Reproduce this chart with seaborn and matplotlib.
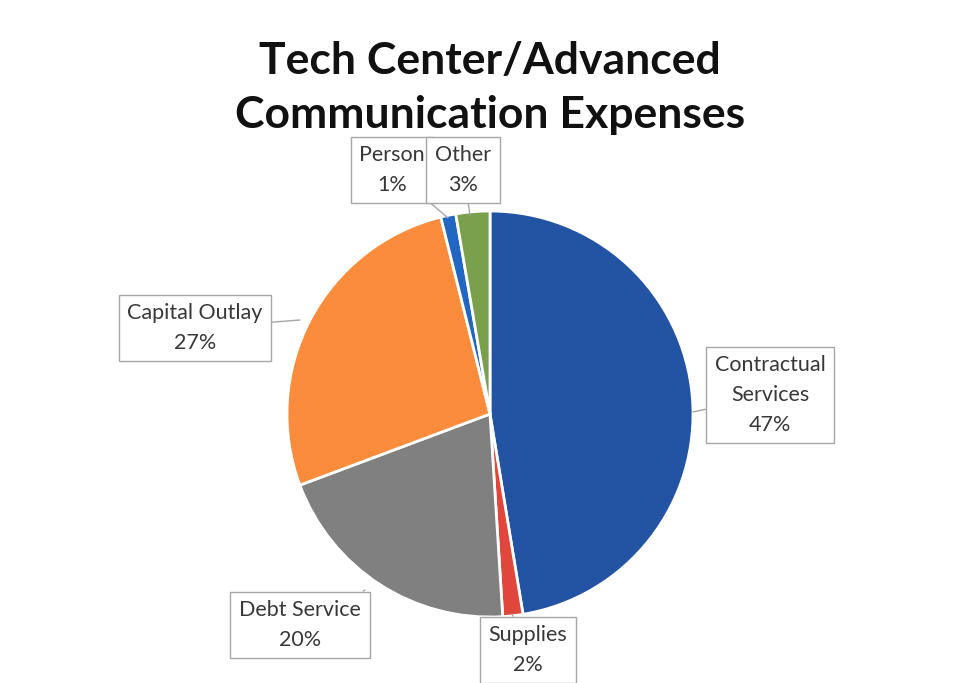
import matplotlib
matplotlib.use("Agg")
import matplotlib.pyplot as plt
import seaborn as sns
import numpy as np

sns.set_theme(style="white")
plt.rcParams['font.family'] = ['Lato', 'DejaVu Sans']

# ---- data ----
categories = ["Contractual\nServices", "Supplies", "Debt Service", "Capital Outlay", "Person", "Other"]
values = [47.4, 1.6, 20.3, 26.8, 1.2, 2.7]
colors = ["#2254A3", "#E0463B", "#808080", "#FA8C3C", "#2167C2", "#7AA04E"]
title = "Tech Center/Advanced\nCommunication Expenses"

# ---- layout (pixel positions of label boxes and pointer targets) ----
W, H = 972, 683
cx, cy, R = 490, 414, 203
label_px = [(770, 395), (528, 650), (300, 625), (195, 328), (392, 170), (463, 170)]
target_px = [(693, 412), (512, 614), (365, 590), (300, 320), (448, 218), (470, 215)]

fig = plt.figure(figsize=(W / 100, H / 100), dpi=100)
ax = fig.add_axes([(cx - R) / W, (H - cy - R) / H, 2 * R / W, 2 * R / H])
wedges, _ = ax.pie(values, colors=colors, startangle=90, counterclock=False,
                   radius=1, wedgeprops=dict(edgecolor="white", linewidth=2))
ax.set_xlim(-1, 1)
ax.set_ylim(-1, 1)
ax.set_aspect("equal")
ax.axis("off")

def to_data(p):
    return ((p[0] - cx) / R, (cy - p[1]) / R)

total = sum(values)
for i, (cat, v) in enumerate(zip(categories, values)):
    pct = f"{round(v / total * 100):.0f}%"
    lx, ly = to_data(label_px[i])
    tx, ty = to_data(target_px[i])
    ax.annotate(f"{cat}\n{pct}", xy=(tx, ty), xytext=(lx, ly),
                ha="center", va="center", fontsize=15.5, color="#383838",
                linespacing=1.6, annotation_clip=False, zorder=5 + i,
                bbox=dict(boxstyle="square,pad=0.4", fc="white", ec="#A6A6A6", lw=1),
                arrowprops=dict(arrowstyle="-", color="#A6A6A6", lw=1, shrinkA=0, shrinkB=0))

fig.text(cx / W, 1 - 88 / H, title, ha="center", va="center",
         fontsize=32, fontweight="bold", color="#111111", linespacing=1.45)

fig.savefig("out.png", dpi=100, facecolor="white")
